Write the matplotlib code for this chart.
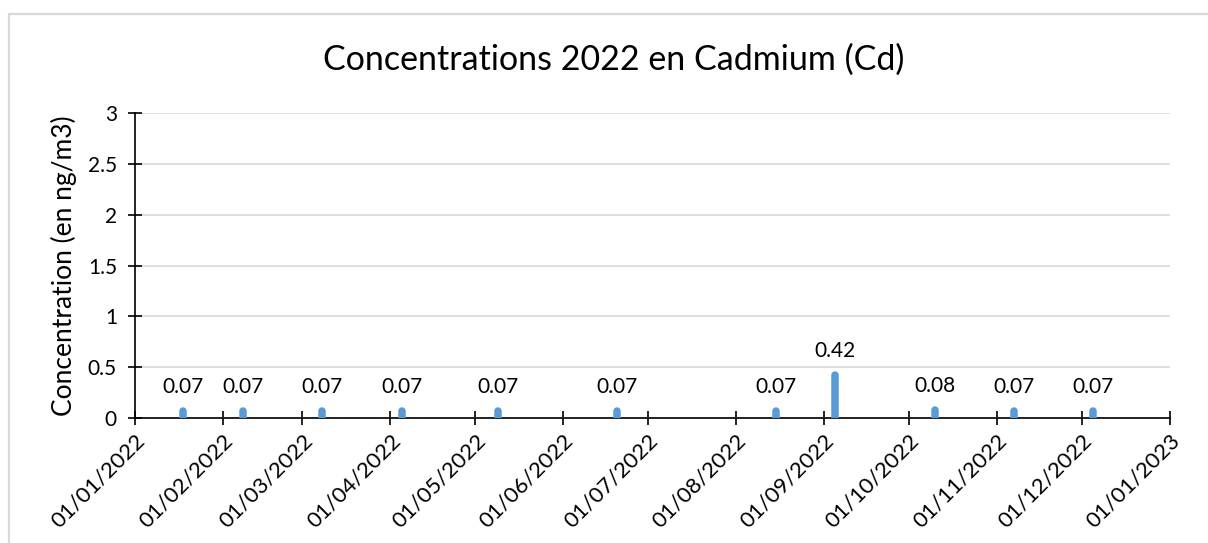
import numpy as np
import pandas as pd
import matplotlib
matplotlib.use('Agg')
import matplotlib.pyplot as plt
import matplotlib.dates as mdates
from matplotlib.patches import Rectangle
from matplotlib.ticker import FuncFormatter, MultipleLocator

# Données : dates de prélèvement et concentrations (ng/m3)
dates = ['2022-01-18', '2022-02-08', '2022-03-08', '2022-04-05', '2022-05-09',
         '2022-06-20', '2022-08-15', '2022-09-05', '2022-10-10', '2022-11-07',
         '2022-12-05']
values = [0.07, 0.07, 0.07, 0.07, 0.07, 0.07, 0.07, 0.42, 0.08, 0.07, 0.07]
labels = ['0.07', '0.07', '0.07', '0.07', '0.07', '0.07', '0.07', '0.42', '0.08', '0.07', '0.07']

title = 'Concentrations 2022 en Cadmium (Cd)'
ylabel = 'Concentration (en ng/m3)'

plt.rcParams['font.family'] = ['Lato', 'DejaVu Sans']

x = pd.to_datetime(dates)

fig = plt.figure(figsize=(12.08, 5.43), dpi=100)
ax = fig.add_axes([135 / 1208, 1 - 418 / 543, (1170 - 135) / 1208, (418 - 113.3) / 543])

# Bordure de la zone de graphique (style Excel)
fig.patches.append(Rectangle((9 / 1208, -0.1), 1.2, 1 - 14 / 543 + 0.1,
                             transform=fig.transFigure, fill=False,
                             edgecolor='#d9d9d9', linewidth=1.6))

ax.vlines(x, 0, values, colors='#5b9bd5', linewidth=5.4, capstyle='round', zorder=3)

for xi, v, lab in zip(x, values, labels):
    ax.annotate(lab, (xi, v), xytext=(0, 10), textcoords='offset points',
                ha='center', va='bottom', fontsize=15)

ax.set_xlim(pd.Timestamp('2022-01-01'), pd.Timestamp('2023-01-01'))
ax.set_ylim(0, 3)

ax.xaxis.set_major_locator(mdates.MonthLocator())
ax.xaxis.set_major_formatter(mdates.DateFormatter('%d/%m/%Y'))
ax.yaxis.set_major_locator(MultipleLocator(0.5))
ax.yaxis.set_major_formatter(FuncFormatter(lambda v, p: '%g' % v))

ax.grid(axis='y', color='#d9d9d9', linewidth=1.2)
ax.set_axisbelow(True)
for s in ['top', 'right']:
    ax.spines[s].set_visible(False)
for s in ['left', 'bottom']:
    ax.spines[s].set_color('black')
    ax.spines[s].set_linewidth(1.2)

ax.tick_params(axis='both', direction='inout', length=10, width=1.2, labelsize=15, color='black')
ax.tick_params(axis='x', labelsize=16, pad=4)
ax.tick_params(axis='y', pad=8)
plt.setp(ax.get_xticklabels(), rotation=45, ha='right', rotation_mode='anchor')

ax.set_ylabel(ylabel, fontsize=19, labelpad=8)
fig.text(614 / 1208, 1 - 60 / 543, title, ha='center', va='center', fontsize=24.5)

fig.savefig('out.png', dpi=100)
